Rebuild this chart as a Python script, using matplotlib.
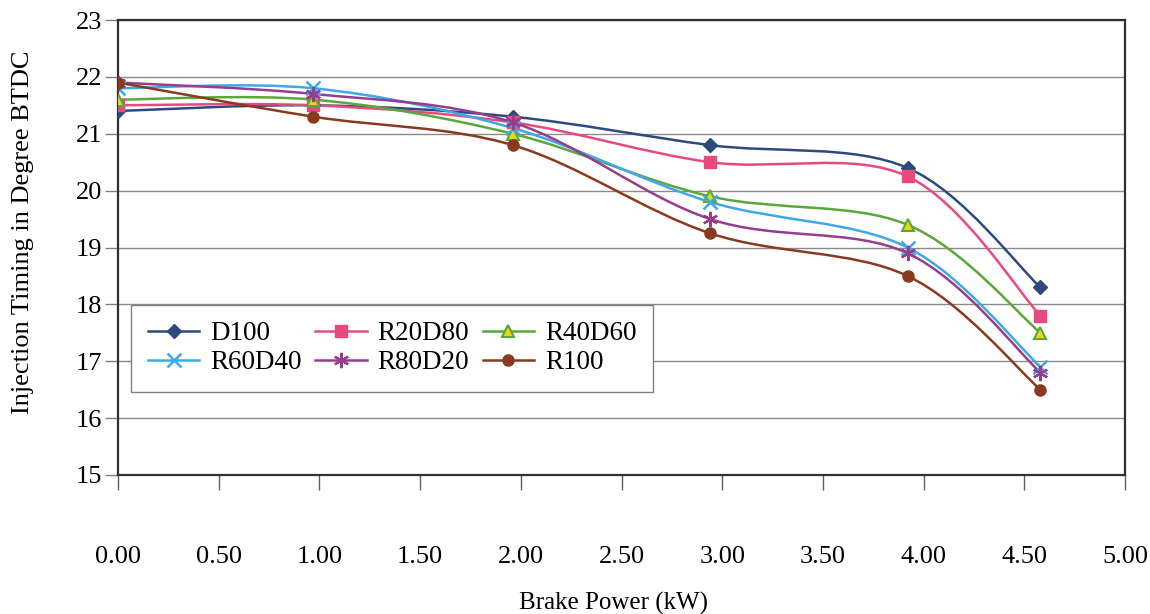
import numpy as np
import matplotlib.pyplot as plt
from matplotlib.path import Path
from matplotlib.patches import PathPatch


## data

power = [0.0, 0.97, 1.96, 2.94, 3.92, 4.58]

d100 = [21.4, 21.5, 21.3, 20.8, 20.4, 18.3]
r20d80 = [21.5, 21.5, 21.2, 20.5, 20.25, 17.8]
r40d60 = [21.6, 21.6, 21.0, 19.9, 19.4, 17.5]
r60d40 = [21.8, 21.8, 21.1, 19.8, 19.0, 16.9]
r80d20 = [21.9, 21.7, 21.2, 19.5, 18.9, 16.8]
r100 = [21.9, 21.3, 20.8, 19.25, 18.5, 16.5]

names = ['D100', 'R20D80', 'R40D60', 'R60D40', 'R80D20', 'R100']
series = [d100, r20d80, r40d60, r60d40, r80d20, r100]

x_ticks = [0.0, 0.5, 1.0, 1.5, 2.0, 2.5, 3.0, 3.5, 4.0, 4.5, 5.0]
y_ticks = [15, 16, 17, 18, 19, 20, 21, 22, 23]


## styles

styles = [
    dict(color='#2d4a80', marker='D', ms=7, mfc='#2d4a80', mec='#2d4a80'),
    dict(color='#e84a80', marker='s', ms=8, mfc='#e84a80', mec='#e84a80'),
    dict(color='#5aa83a', marker='^', ms=9, mfc='#e8d820', mec='#5aa83a', mew=1.5),
    dict(color='#3fa8e8', marker='x', ms=10, mfc='#3fa8e8', mec='#3fa8e8', mew=1.8),
    dict(color='#963e8e', marker=(6, 2, 0), ms=11, mfc='#963e8e', mec='#963e8e', mew=1.6),
    dict(color='#8a3a1e', marker='o', ms=8, mfc='#8a3a1e', mec='#8a3a1e'),
]


def smooth_path(x, y):
    # bezier segments through the points, like a smoothed spreadsheet line
    pts = np.column_stack([x, y])
    n = len(pts)
    verts = [pts[0]]
    codes = [Path.MOVETO]
    for i in range(n - 1):
        p0 = pts[i - 1] if i > 0 else pts[i]
        p1 = pts[i]
        p2 = pts[i + 1]
        p3 = pts[i + 2] if i + 2 < n else pts[i + 1]
        c1 = p1 + (p2 - p0) / 6
        c2 = p2 - (p3 - p1) / 6
        verts += [c1, c2, p2]
        codes += [Path.CURVE4] * 3
    return Path(verts, codes)


## plot

plt.rcParams['font.family'] = ['Liberation Serif', 'DejaVu Serif']

fig = plt.figure(figsize=(11.5, 6.14), dpi=100)
ax = fig.add_axes([0.1026, 0.2264, 0.8757, 0.741])

handles = {}
for name, yv, st in zip(names, series, styles):
    ax.add_patch(PathPatch(smooth_path(power, yv), fill=False,
                           edgecolor=st['color'], lw=1.8, zorder=3))
    ax.plot(power, yv, ls='none', marker=st['marker'], ms=st['ms'],
            mfc=st['mfc'], mec=st['mec'], mew=st.get('mew', 1), zorder=4)
    # legend handle with line + marker
    h, = ax.plot([], [], color=st['color'], lw=1.8, marker=st['marker'], ms=st['ms'],
                 mfc=st['mfc'], mec=st['mec'], mew=st.get('mew', 1))
    handles[name] = h

ax.set_xlim(0, 5)
ax.set_ylim(15, 23)
ax.set_xticks(x_ticks)
ax.set_xticklabels(['%.2f' % v for v in x_ticks])
ax.set_yticks(y_ticks)

ax.grid(axis='y', color='#8a8a8a', lw=1.0)
ax.set_axisbelow(True)
for s in ax.spines.values():
    s.set_color('#303030')
    s.set_linewidth(1.6)

ax.tick_params(axis='x', direction='out', length=11, width=1, color='#606060',
               pad=40, labelsize=19)
ax.tick_params(axis='y', direction='out', length=9.5, width=1, color='#808080',
               pad=2, labelsize=19)

ax.set_xlabel('Brake Power (kW)', fontsize=18)
ax.xaxis.set_label_coords(0.492, -0.257)
ax.set_ylabel('Injection Timing in Degree BTDC', fontsize=19)
ax.yaxis.set_label_coords(-0.083, 0.534)

# row-wise legend order (matplotlib fills columns first)
order = ['D100', 'R60D40', 'R20D80', 'R80D20', 'R40D60', 'R100']
ax.legend([handles[k] for k in order], order,
          loc='lower left', bbox_to_anchor=(0.013, 0.182), borderaxespad=0,
          ncol=3, fontsize=19.5,
          handlelength=1.9, columnspacing=0.5, handletextpad=0.4, labelspacing=0.15,
          frameon=True, fancybox=False, edgecolor='#808080', framealpha=1,
          borderpad=0.62)

plt.savefig('out.png', dpi=100)
